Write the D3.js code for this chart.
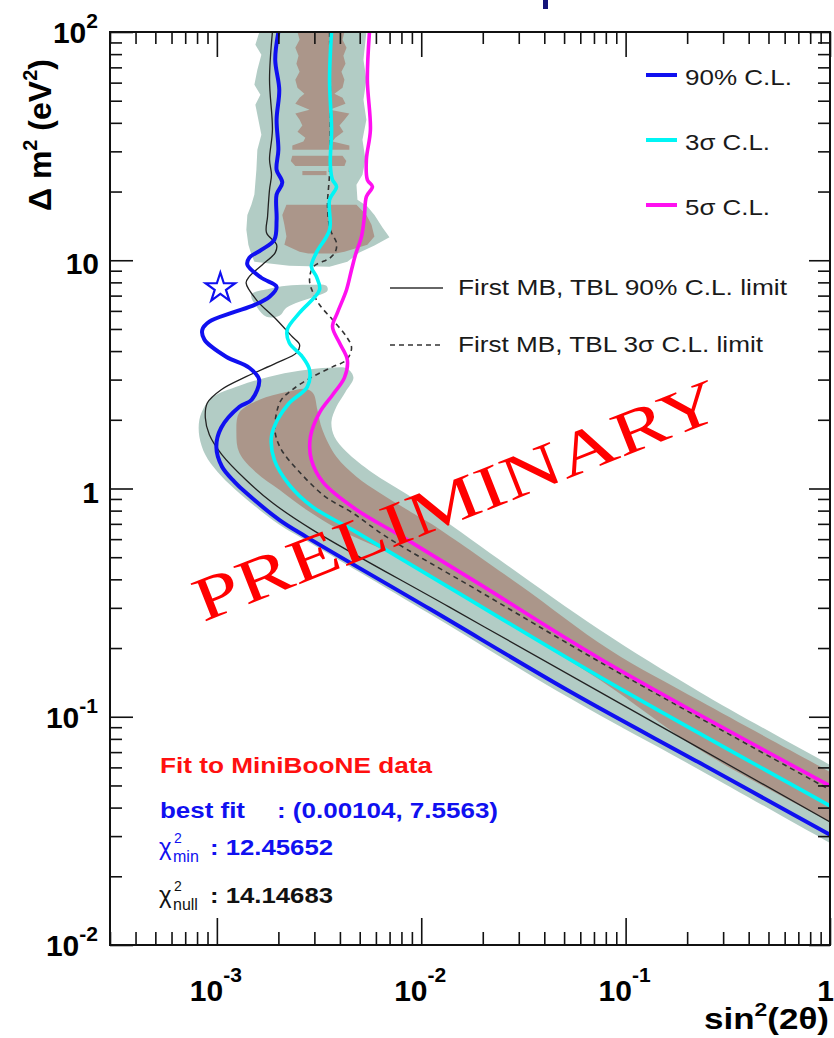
<!DOCTYPE html>
<html><head><meta charset="utf-8">
<script src="https://cdn.jsdelivr.net/npm/d3@7"></script>
<style>
html,body{margin:0;padding:0;background:#fff;}
svg{display:block;}
text{font-family:"Liberation Sans",Arial,Helvetica,sans-serif;}
text.watermark{font-family:"Liberation Serif","DejaVu Serif",serif;}
</style></head><body>
<svg id="chart" width="834" height="1038"></svg>
<script>
// ---- exclusion contours: [sin^2(2θ), Δm^2 (eV^2)] ----
const curve90 = [[2.00e-3,100],[1.93e-3,75.6],[2.02e-3,55.9],[1.96e-3,41.3],[2.00e-3,30.5],[1.96e-3,24.9],[2.09e-3,21.9],[1.96e-3,19.4],[1.96e-3,15.0],[1.91e-3,12.3],[1.65e-3,11.1],[1.44e-3,10.25],[1.41e-3,9.56],[1.65e-3,8.38],[1.96e-3,7.65],[1.81e-3,6.92],[1.53e-3,6.38],[1.19e-3,5.89],[9.19e-4,5.38],[8.49e-4,4.96],[8.69e-4,4.49],[1.11e-3,3.78],[1.44e-3,3.38],[1.61e-3,3.00],[1.48e-3,2.45],[1.29e-3,2.28],[1.05e-3,1.845],[9.94e-4,1.523],[1.06e-3,1.245],[1.22e-3,1.07],[1.39e-3,0.957],[2.02e-3,0.729],[2.74e-3,0.614],[0.01098,0.297],[0.0550,0.127],[0.2303,0.0628],[1.0,0.0304]];
const curve3s = [[3.64e-3,100],[3.56e-3,61.8],[3.64e-3,37.3],[3.59e-3,26.2],[3.68e-3,22.5],[3.85e-3,21.0],[3.56e-3,18.4],[3.56e-3,13.6],[3.07e-3,10.8],[2.90e-3,9.37],[3.07e-3,8.47],[3.18e-3,7.43],[2.54e-3,5.89],[2.21e-3,4.96],[2.26e-3,4.35],[2.62e-3,3.78],[2.84e-3,3.31],[2.77e-3,2.79],[2.26e-3,2.37],[1.98e-3,2.00],[1.85e-3,1.685],[1.91e-3,1.336],[2.26e-3,1.038],[2.94e-3,0.831],[4.61e-3,0.659],[0.01374,0.368],[0.0746,0.1496],[1.0,0.0407]];
const curve5s = [[5.58e-3,100],[5.45e-3,61.8],[5.64e-3,37.3],[5.39e-3,27.6],[5.45e-3,22.5],[5.77e-3,21.0],[5.39e-3,19.0],[5.27e-3,15.5],[5.10e-3,12.7],[4.77e-3,10.6],[4.56e-3,9.09],[4.31e-3,7.43],[3.89e-3,5.89],[3.68e-3,5.11],[3.98e-3,4.35],[4.35e-3,3.66],[4.21e-3,3.06],[3.68e-3,2.57],[3.18e-3,2.15],[2.87e-3,1.685],[2.90e-3,1.336],[3.32e-3,1.06],[4.82e-3,0.807],[8.09e-3,0.614],[0.0193,0.381],[0.0746,0.180],[1.0,0.0498]];
const firstMB90 = [[1.87e-3,100],[1.81e-3,61.8],[1.87e-3,37.3],[1.81e-3,27.6],[1.85e-3,23.7],[1.81e-3,20.4],[1.77e-3,15.5],[1.75e-3,13.2],[1.96e-3,11.7],[1.93e-3,10.8],[1.67e-3,9.56],[1.44e-3,8.47],[1.39e-3,7.96],[1.56e-3,6.71],[1.96e-3,5.49],[2.34e-3,4.62],[2.54e-3,4.26],[2.45e-3,3.93],[1.96e-3,3.55],[1.39e-3,3.09],[1.05e-3,2.71],[8.98e-4,2.37],[8.78e-4,2.04],[9.19e-4,1.72],[1.06e-3,1.405],[1.39e-3,1.09],[1.87e-3,0.866],[2.94e-3,0.659],[0.01374,0.302],[0.0746,0.1285],[1.0,0.0346]];
const firstMB3s = [[3.56e-3,100],[3.59e-3,50.5],[3.56e-3,24.2],[3.48e-3,17.2],[3.59e-3,13.6],[3.85e-3,11.9],[3.80e-3,10.9],[3.56e-3,10.2],[2.97e-3,9.37],[2.84e-3,8.21],[2.94e-3,7.28],[3.18e-3,6.38],[3.68e-3,5.49],[4.31e-3,4.62],[4.56e-3,4.14],[4.31e-3,3.66],[3.68e-3,3.41],[2.94e-3,3.09],[2.34e-3,2.71],[2.07e-3,2.45],[1.96e-3,2.15],[1.93e-3,1.754],[2.07e-3,1.478],[2.48e-3,1.208],[3.36e-3,0.927],[4.61e-3,0.782],[6.76e-3,0.614],[0.0193,0.354],[0.0746,0.174],[1.0,0.0478]];

// ---- sensitivity bands (outer = green, inner = brown) ----
const greenUpper = [[1.614e-3,100],[1.543e-3,88.0],[1.651e-3,79.5],[1.578e-3,68.4],[1.526e-3,58.8],[1.633e-3,53.1],[1.543e-3,48.0],[1.596e-3,41.3],[1.651e-3,35.5],[1.578e-3,30.5],[1.561e-3,24.9],[1.526e-3,19.4],[1.475e-3,17.5],[1.410e-3,15.8],[1.394e-3,13.6],[1.426e-3,11.7],[1.475e-3,10.6],[1.526e-3,9.85],[2.26e-3,9.46],[3.555e-3,9.37],[4.35e-3,9.85],[4.985e-3,10.8],[5.903e-3,11.6],[6.991e-3,12.6],[6.461e-3,13.9],[5.903e-3,15.8],[5.45e-3,17.2],[4.874e-3,18.4],[4.82e-3,21.4],[5.157e-3,23.7],[5.333e-3,27.6],[5.157e-3,33.7],[5.39e-3,41.3],[5.215e-3,50.5],[5.39e-3,61.8],[5.215e-3,75.6],[5.39e-3,100]];
const greenPatch = [[1.475e-3,7.06],[1.807e-3,7.50],[2.189e-3,7.73],[2.837e-3,7.81],[3.436e-3,7.73],[3.475e-3,7.35],[3.003e-3,6.92],[2.535e-3,6.58],[2.189e-3,6.19],[2.023e-3,5.71],[1.748e-3,5.65],[1.578e-3,6.19]];
const greenLower = [[9.40e-4,2.50],[1.288e-3,2.82],[1.807e-3,3.09],[2.535e-3,3.28],[3.555e-3,3.38],[4.35e-3,3.35],[4.66e-3,3.06],[4.257e-3,2.65],[3.846e-3,2.28],[3.636e-3,1.96],[3.761e-3,1.685],[4.305e-3,1.448],[5.77e-3,1.172],[8.28e-3,0.957],[0.01098,0.807],[0.02416,0.487],[0.0746,0.2403],[0.2303,0.1285],[1.0,0.0615],[1.5,0.0502],[1.5,0.0229],[1.0,0.0280],[0.2303,0.0585],[0.0550,0.1186],[0.01098,0.2825],[2.742e-3,0.590],[2.023e-3,0.693],[1.526e-3,0.840],[1.218e-3,0.997],[1.006e-3,1.184],[8.78e-4,1.405],[8.21e-4,1.685],[8.21e-4,2.00],[8.69e-4,2.28]];
const brownLower = [[1.288e-3,2.15],[1.614e-3,2.45],[2.189e-3,2.65],[2.742e-3,2.73],[2.969e-3,2.60],[3.105e-3,2.21],[3.283e-3,1.81],[3.846e-3,1.377],[4.82e-3,1.126],[6.25e-3,0.957],[9.06e-3,0.782],[0.01098,0.708],[0.0303,0.378],[0.0835,0.1965],[0.2303,0.1174],[1.0,0.0573],[1.5,0.0468],[1.5,0.0282],[1.0,0.0346],[0.2303,0.0716],[0.0746,0.1451],[0.02416,0.2713],[7.82e-3,0.497],[3.98e-3,0.659],[2.742e-3,0.807],[2.023e-3,0.987],[1.561e-3,1.172],[1.288e-3,1.434],[1.246e-3,1.754]];
// streaky inner band at large Δm^2: rows of [Δm^2, sin^2 low, sin^2 high]
const brownStreakA = [[100,2.48e-3,4.21e-3],[92.5,2.54e-3,4.12e-3],[85.4,2.42e-3,4.31e-3],[78.7,2.51e-3,4.16e-3],[72.6,2.45e-3,4.26e-3],[67.0,2.54e-3,4.07e-3],[61.8,2.42e-3,4.21e-3],[57.0,2.48e-3,4.12e-3],[53.7,2.68e-3,3.76e-3],[51.5,2.54e-3,4.12e-3],[48.5,2.42e-3,4.26e-3],[45.6,2.84e-3,3.56e-3],[43.9,2.42e-3,4.45e-3],[41.3,2.54e-3,4.21e-3],[38.9,2.62e-3,3.98e-3],[36.6,2.48e-3,4.16e-3],[34.4,2.71e-3,3.80e-3],[33.1,2.65e-3,3.68e-3],[31.8,2.34e-3,4.45e-3],[30.5,2.34e-3,4.45e-3]];
const brownStreakB = [[28.7,2.34e-3,4.12e-3],[27.2,2.30e-3,4.30e-3],[25.9,2.42e-3,4.21e-3]];
const brownStreakC = [[24.6,2.62e-3,3.44e-3],[23.6,2.62e-3,3.44e-3]];
const brownStreakD = [[17.5,2.19e-3,4.82e-3],[15.8,2.09e-3,5.39e-3],[14.3,2.14e-3,5.71e-3],[12.7,2.19e-3,5.90e-3],[11.7,2.14e-3,5.45e-3],[10.9,2.54e-3,4.21e-3],[10.7,2.80e-3,3.80e-3]];

const bestFit = [0.00104, 7.5563];
const chi2min = "12.45652";
const chi2null = "14.14683";

// ---- axis tick labels ----
const xTickLabels = [{v:1e-3,base:"10",exp:"-3"},{v:1e-2,base:"10",exp:"-2"},{v:1e-1,base:"10",exp:"-1"},{v:1,base:"1",exp:""}];
const yTickLabels = [{v:1e-2,base:"10",exp:"-2"},{v:1e-1,base:"10",exp:"-1"},{v:1,base:"1",exp:""},{v:10,base:"10",exp:""},{v:100,base:"10",exp:"2"}];

// ---- legend entries ----
const legendCL = [{label:"90% C.L.",color:"#1010f0"},{label:"3σ C.L.",color:"#00f5f5"},{label:"5σ C.L.",color:"#ff10f0"}];
const legendMB = [{label:"First MB, TBL 90% C.L. limit",dash:null},{label:"First MB, TBL 3σ C.L. limit",dash:"5,4"}];

const W = 834, H = 1038;
const M = {left:110, right:830, top:32, bottom:945};
const GREEN = "#b2ccc5", BROWN = "#ab968a";

const x = d3.scaleLog().domain([3e-4, 1]).range([M.left, M.right]);
const y = d3.scaleLog().domain([0.01, 100]).range([M.bottom, M.top]);

const svg = d3.select("#chart");
svg.append("rect").attr("width", W).attr("height", H).attr("fill", "#fff");
svg.append("clipPath").attr("id", "plotClip").append("rect")
  .attr("x", M.left).attr("y", M.top).attr("width", M.right - M.left).attr("height", M.bottom - M.top);

const plot = svg.append("g").attr("clip-path", "url(#plotClip)");

// bands
const polyLinear = d3.line().x(d => x(d[0])).y(d => y(d[1])).curve(d3.curveLinearClosed);
const polySmooth = d3.line().x(d => x(d[0])).y(d => y(d[1])).curve(d3.curveCatmullRomClosed.alpha(0.5));
const rows = d3.area().y(d => y(d[0])).x0(d => x(d[1])).x1(d => x(d[2])).curve(d3.curveLinear);

plot.append("path").attr("d", polyLinear(greenUpper)).attr("fill", GREEN);
plot.append("path").attr("d", polySmooth(greenPatch)).attr("fill", GREEN);
plot.append("path").attr("d", polySmooth(greenLower)).attr("fill", GREEN);
[brownStreakA, brownStreakB, brownStreakC, brownStreakD].forEach(s =>
  plot.append("path").attr("d", rows(s)).attr("fill", BROWN));
plot.append("path").attr("d", polySmooth(brownLower)).attr("fill", BROWN);

// contours
const contour = d3.line().x(d => x(d[0])).y(d => y(d[1])).curve(d3.curveCatmullRom.alpha(0.5));
plot.append("path").attr("d", contour(firstMB90)).attr("fill", "none").attr("stroke", "#222").attr("stroke-width", 1.3);
plot.append("path").attr("d", contour(firstMB3s)).attr("fill", "none").attr("stroke", "#333").attr("stroke-width", 1.6).attr("stroke-dasharray", "5,4");
plot.append("path").attr("d", contour(curve90)).attr("fill", "none").attr("stroke", legendCL[0].color).attr("stroke-width", 4);
plot.append("path").attr("d", contour(curve3s)).attr("fill", "none").attr("stroke", legendCL[1].color).attr("stroke-width", 3.6);
plot.append("path").attr("d", contour(curve5s)).attr("fill", "none").attr("stroke", legendCL[2].color).attr("stroke-width", 3.6);

// best-fit star
svg.append("path")
  .attr("d", d3.symbol().type(d3.symbolStar).size(270)())
  .attr("transform", `translate(${x(bestFit[0])},${y(bestFit[1])})`)
  .attr("fill", "#fff").attr("stroke", "#1010f0").attr("stroke-width", 2.2);

// axes: ticks on all four sides, pointing into the frame
const isMajor = v => Math.abs(Math.log10(v) - Math.round(Math.log10(v))) < 1e-9;
const xMaj = x.ticks().filter(isMajor), xMin = x.ticks().filter(v => !isMajor(v));
const yMaj = y.ticks().filter(isMajor), yMin = y.ticks().filter(v => !isMajor(v));
const axes = svg.append("g");
function addAxis(gen, tx, ty) {
  axes.append("g").attr("transform", `translate(${tx},${ty})`).call(gen)
    .call(g => { g.select(".domain").remove(); g.selectAll("text").remove();
      g.selectAll("line").attr("stroke", "#111").attr("stroke-width", 1.6); });
}
addAxis(d3.axisBottom(x).tickValues(xMaj).tickSize(-27), 0, M.bottom);
addAxis(d3.axisBottom(x).tickValues(xMin).tickSize(-13), 0, M.bottom);
addAxis(d3.axisTop(x).tickValues(xMaj).tickSize(-25), 0, M.top);
addAxis(d3.axisTop(x).tickValues(xMin).tickSize(-12), 0, M.top);
addAxis(d3.axisLeft(y).tickValues(yMaj).tickSize(-23), M.left, 0);
addAxis(d3.axisLeft(y).tickValues(yMin).tickSize(-12), M.left, 0);
addAxis(d3.axisRight(y).tickValues(yMaj).tickSize(-21), M.right, 0);
addAxis(d3.axisRight(y).tickValues(yMin).tickSize(-12), M.right, 0);
axes.append("rect").attr("x", M.left).attr("y", M.top)
  .attr("width", M.right - M.left).attr("height", M.bottom - M.top)
  .attr("fill", "none").attr("stroke", "#111").attr("stroke-width", 2);

// tick labels
const lab = svg.append("g").attr("font-weight", "bold").attr("fill", "#000");
xTickLabels.forEach(t => {
  const tx = lab.append("text").attr("font-size", 30).attr("text-anchor", "end")
    .attr("x", t.exp ? x(t.v) + 25 : x(t.v) + 4).attr("y", 1001).text(t.base);
  if (t.exp) tx.append("tspan").attr("font-size", 21).attr("dy", -19).text(t.exp);
});
yTickLabels.forEach(t => {
  const tx = lab.append("text").attr("font-size", 30).attr("text-anchor", "end")
    .attr("x", t.exp ? 98 : 99).attr("y", y(t.v) + (t.exp ? 11 : 14)).text(t.base);
  if (t.exp) tx.append("tspan").attr("font-size", 21).attr("dy", -15).text(t.exp);
});

// axis titles
const xt = lab.append("text").attr("font-size", 29).attr("text-anchor", "end").attr("x", 829).attr("y", 1029)
  .attr("textLength", 125).attr("lengthAdjust", "spacingAndGlyphs");
xt.append("tspan").text("sin");
xt.append("tspan").attr("font-size", 19).attr("dy", -13).text("2");
xt.append("tspan").attr("dy", 13).text("(2θ)");
const yt = lab.append("text").attr("font-size", 32).attr("transform", "translate(51,211) rotate(-90)");
yt.append("tspan").text("Δ m");
yt.append("tspan").attr("font-size", 20).attr("dy", -14).text("2");
yt.append("tspan").attr("dy", 14).text(" (eV");
yt.append("tspan").attr("font-size", 20).attr("dy", -14).text("2");
yt.append("tspan").attr("dy", 14).text(")");

// legend
const leg = svg.append("g").attr("font-size", 22).attr("fill", "#1a1a1a");
legendCL.forEach((d, i) => {
  const ly = 75 + i * 65;
  leg.append("line").attr("x1", 646).attr("x2", 677).attr("y1", ly).attr("y2", ly)
    .attr("stroke", d.color).attr("stroke-width", 4);
  leg.append("text").attr("x", 685).attr("y", ly + 10).attr("textLength", i === 0 ? 107 : 85)
    .attr("lengthAdjust", "spacingAndGlyphs").text(d.label);
});
legendMB.forEach((d, i) => {
  const ly = 288 + i * 57;
  leg.append("line").attr("x1", 390).attr("x2", 443).attr("y1", ly).attr("y2", ly)
    .attr("stroke", "#333").attr("stroke-width", 1.4).attr("stroke-dasharray", d.dash);
  leg.append("text").attr("x", 458).attr("y", ly + 7).attr("textLength", i === 0 ? 329 : 305)
    .attr("lengthAdjust", "spacingAndGlyphs").text(d.label);
});

// fit summary
const info = svg.append("g").attr("font-size", 22);
info.append("text").attr("x", 160).attr("y", 773).attr("fill", "#ff1010").attr("font-weight", "bold")
  .attr("textLength", 272).attr("lengthAdjust", "spacingAndGlyphs").text("Fit to MiniBooNE data");
info.append("text").attr("x", 160).attr("y", 818).attr("fill", "#1010f0").attr("font-weight", "bold")
  .attr("textLength", 85).attr("lengthAdjust", "spacingAndGlyphs").text("best fit");
info.append("text").attr("x", 277).attr("y", 818).attr("fill", "#1010f0").attr("font-weight", "bold")
  .attr("textLength", 221).attr("lengthAdjust", "spacingAndGlyphs")
  .text(`: (${bestFit[0].toFixed(5)}, ${bestFit[1]})`);
function chiLine(yb, sub, val, color) {
  info.append("text").attr("x", 159).attr("y", yb).attr("fill", color).attr("font-size", 24).text("χ");
  info.append("text").attr("x", 174).attr("y", yb - 12).attr("fill", color).attr("font-size", 14).text("2");
  info.append("text").attr("x", 173).attr("y", yb + 7).attr("fill", color).attr("font-size", 16).text(sub);
  info.append("text").attr("x", 210).attr("y", yb).attr("fill", color).attr("font-weight", "bold")
    .attr("textLength", 123).attr("lengthAdjust", "spacingAndGlyphs").text(": " + val);
}
chiLine(855, "min", chi2min, "#1010f0");
chiLine(903, "null", chi2null, "#111");

// watermark
svg.append("text").attr("class", "watermark")
  .attr("font-size", 62).attr("fill", "#ff0000").attr("text-anchor", "middle")
  .attr("dominant-baseline", "central").attr("textLength", 560).attr("lengthAdjust", "spacingAndGlyphs")
  .attr("transform", "translate(456,500) rotate(-21.5)").text("PRELIMINARY");

// sliver of the slide heading above the plot
svg.append("rect").attr("x", 543).attr("y", 0).attr("width", 5).attr("height", 9).attr("fill", "#14147a");
</script></body></html>
